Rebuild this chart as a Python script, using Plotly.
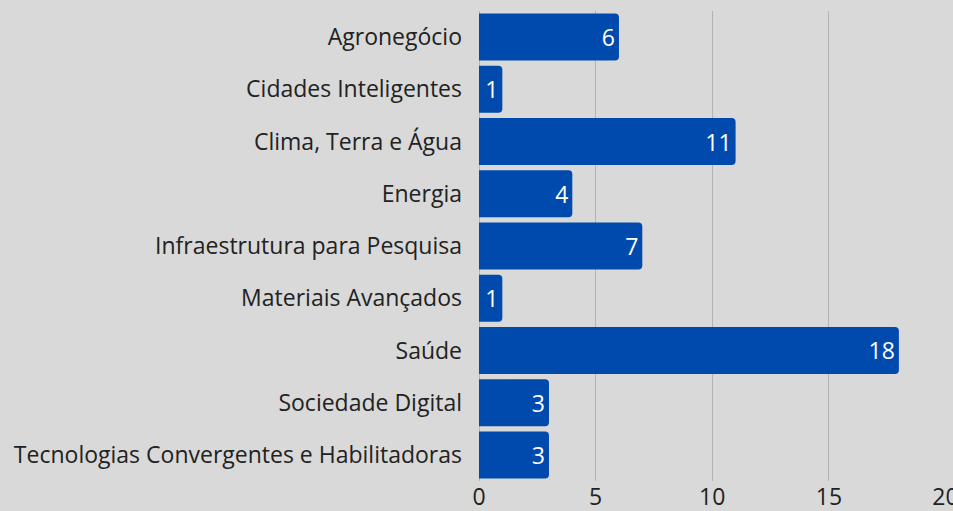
import plotly.graph_objects as go

categories = ["Agronegócio", "Cidades Inteligentes", "Clima, Terra e Água", "Energia",
              "Infraestrutura para Pesquisa", "Materiais Avançados", "Saúde",
              "Sociedade Digital", "Tecnologias Convergentes e Habilitadoras"]
values = [6, 1, 11, 4, 7, 1, 18, 3, 3]
x_ticks = [0, 5, 10, 15, 20]

fig = go.Figure(go.Bar(
    x=values, y=categories, orientation="h",
    marker=dict(color="#004aad", line=dict(width=0)),
    text=[str(v) for v in values], textposition="inside", insidetextanchor="end",
    textfont=dict(color="white", size=23, family="Open Sans"),
    textangle=0, cliponaxis=False,
))
fig.update_layout(
    width=953, height=511,
    margin=dict(l=479, r=7, t=11, b=30, autoexpand=False),
    paper_bgcolor="#d9d9d9", plot_bgcolor="#d9d9d9",
    bargap=0.1, barcornerradius=4,
    font=dict(family="Open Sans", size=23, color="#222222"),
    showlegend=False,
)
fig.update_xaxes(range=[0, 20.02], tickvals=x_ticks, showgrid=True, gridcolor="#b3b3b3",
                 gridwidth=1, zeroline=True, zerolinecolor="#b3b3b3", zerolinewidth=1,
                 tickfont=dict(size=23, color="#222222"), showline=False, ticks="",
                 automargin=False, ticklabeloverflow="allow", ticklabelstandoff=0)
fig.update_yaxes(autorange="reversed", showgrid=False, ticks="", ticklabelstandoff=16,
                 tickfont=dict(size=23, color="#222222"), showline=False, automargin=False)
fig.write_html(
    "out.html",
    config={"displayModeBar": False},
    post_script="document.body.style.margin='0';document.body.style.background='#d9d9d9';"
                "document.body.style.overflow='hidden';",
)
